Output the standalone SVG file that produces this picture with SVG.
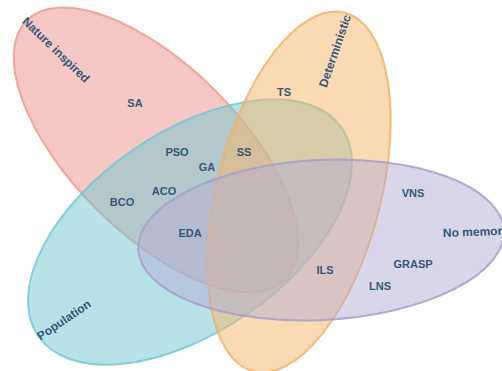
<svg xmlns="http://www.w3.org/2000/svg" width="502" height="371" viewBox="0 0 502 371">
  <style>
    .set { stroke-width: 2; fill-opacity: 0.5; stroke-opacity: 0.85; }
    .lbl { font-family: "Liberation Sans", Arial, sans-serif; font-weight: bold; fill: #34587a; text-anchor: middle; }
    .alg { font-size: 11px; }
    .cat { font-size: 12px; }
  </style>
  <rect width="502" height="371" fill="#ffffff"/>

  <!-- set ellipses, drawn back to front -->
  <g id="nature-inspired">
    <ellipse class="set" transform="translate(156,150) rotate(45)" rx="183" ry="84" fill="#ed918b" stroke="#ef9a8e"/>
  </g>
  <g id="population">
    <ellipse class="set" transform="translate(190,232) rotate(-34.4)" rx="184" ry="100" fill="#6fc7d1" stroke="#74c9d2"/>
  </g>
  <g id="deterministic">
    <ellipse class="set" transform="translate(299,192) rotate(-75.7)" rx="185" ry="82" fill="#f5b565" stroke="#f3b066"/>
  </g>
  <g id="no-memory">
    <ellipse class="set" transform="translate(321,240) rotate(-3)" rx="183" ry="80" fill="#b5add3" stroke="#a79fcd"/>
  </g>

  <!-- set titles -->
  <g id="set-labels" class="lbl cat">
    <text transform="translate(56,50) rotate(44)" x="0" y="4">Nature inspired</text>
    <text transform="translate(335,51) rotate(-71)" x="0" y="4">Deterministic</text>
    <text transform="translate(64,320) rotate(-34)" x="0" y="4">Population</text>
    <text transform="translate(443,237) rotate(-2)" x="0" y="0" style="text-anchor:start">No memor</text>
  </g>

  <!-- algorithm labels -->
  <g id="algorithms" class="lbl alg">
    <text x="135" y="107">SA</text>
    <text x="177" y="156">PSO</text>
    <text x="207" y="171">GA</text>
    <text x="244" y="156">SS</text>
    <text x="284" y="96">TS</text>
    <text x="122" y="206">BCO</text>
    <text x="164" y="195">ACO</text>
    <text x="190" y="237">EDA</text>
    <text x="413" y="197">VNS</text>
    <text x="413" y="268">GRASP</text>
    <text x="380" y="290">LNS</text>
    <text x="325" y="274">ILS</text>
  </g>
</svg>
